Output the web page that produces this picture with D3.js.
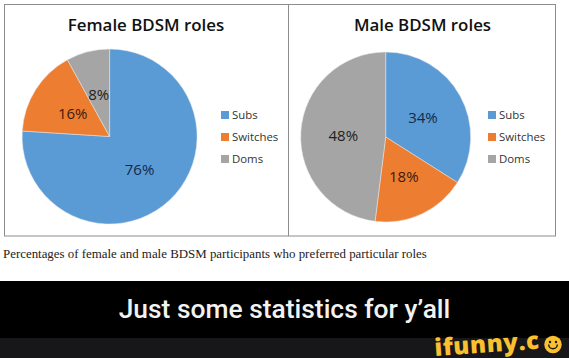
<!DOCTYPE html>
<html>
<head>
<meta charset="utf-8">
<script src="https://cdn.jsdelivr.net/npm/d3@7"></script>
<style>
html, body { margin: 0; padding: 0; background: #fff; }
svg { display: block; }
</style>
</head>
<body>
<svg id="chart"></svg>
<script>
// values
var roles = ["Subs", "Switches", "Doms"];
var femaleValues = [76, 16, 8];
var maleValues = [34, 18, 48];
var roleColors = ["#5b9bd5", "#ed7d31", "#a5a5a5"];
var labelColors = ["#14294a", "#3d1a0c", "#222222"];

var width = 569, height = 358;

var svg = d3.select("#chart").attr("width", width).attr("height", height);

svg.append("rect").attr("width", width).attr("height", height).attr("fill", "#fff");

// frame round both charts
svg.append("rect")
    .attr("x", 4.5).attr("y", 4.5)
    .attr("width", 551).attr("height", 231.5)
    .attr("fill", "none").attr("stroke", "#8c8c8c").attr("stroke-width", 1);
svg.append("line")
    .attr("x1", 288.5).attr("x2", 288.5).attr("y1", 4.5).attr("y2", 236)
    .attr("stroke", "#8c8c8c").attr("stroke-width", 1);

var color = d3.scaleOrdinal().domain(roles).range(roleColors);
var labelColor = d3.scaleOrdinal().domain(roles).range(labelColors);

function drawPie(title, values, cx, cy, r, titleX, legendX) {
    var g = svg.append("g");

    g.append("text")
        .attr("x", titleX).attr("y", 31)
        .attr("text-anchor", "middle")
        .style("font-family", "'Open Sans'")
        .style("font-size", "16.9px")
        .style("font-weight", 600)
        .style("fill", "#111")
        .text(title);

    var data = roles.map(function(d, i) { return {role: d, value: values[i]}; });
    var pie = d3.pie().sort(null).value(function(d) { return d.value; });
    var arc = d3.arc().innerRadius(0).outerRadius(r);

    var slices = g.append("g").attr("transform", `translate(${cx}, ${cy})`);

    slices.selectAll("path")
        .data(pie(data))
        .enter().append("path")
        .attr("d", arc)
        .attr("fill", function(d) { return color(d.data.role); })
        .attr("stroke", "#e8e8e8")
        .attr("stroke-width", 0.5);

    slices.selectAll("text")
        .data(pie(data))
        .enter().append("text")
        .attr("transform", function(d) { return `translate(${arc.centroid(d)})`; })
        .attr("text-anchor", "middle")
        .attr("dy", "0.42em")
        .style("font-family", "'Open Sans'")
        .style("font-size", "15px")
        .style("fill", function(d) { return labelColor(d.data.role); })
        .text(function(d) { return d.data.value + "%"; });

    // legend
    var y = d3.scalePoint().domain(roles).range([115, 159]);
    var legend = g.selectAll(".legend")
        .data(roles)
        .enter().append("g")
        .attr("class", "legend")
        .attr("transform", function(d) { return `translate(${legendX}, ${y(d)})`; });

    legend.append("rect")
        .attr("x", 0).attr("y", -4)
        .attr("width", 8).attr("height", 8)
        .attr("fill", function(d) { return color(d); });

    legend.append("text")
        .attr("x", 11).attr("dy", "0.35em")
        .style("font-family", "'Open Sans'")
        .style("font-size", "11.4px")
        .style("fill", "#333")
        .text(function(d) { return d; });
}

drawPie("Female BDSM roles", femaleValues, 109.6, 136.5, 87.5, 146, 221);
drawPie("Male BDSM roles", maleValues, 385.7, 137, 85, 422.5, 488);

svg.append("text")
    .attr("x", 3).attr("y", 258)
    .style("font-family", "'Liberation Serif'")
    .style("font-size", "12.9px")
    .style("fill", "#222")
    .text("Percentages of female and male BDSM participants who preferred particular roles");

// bottom bands
svg.append("rect").attr("x", 0).attr("y", 281).attr("width", width).attr("height", 57).attr("fill", "#000");
svg.append("rect").attr("x", 0).attr("y", 338).attr("width", width).attr("height", 20).attr("fill", "#17171a");

svg.append("text")
    .attr("x", 284.5).attr("y", 318)
    .attr("text-anchor", "middle")
    .style("font-family", "Roboto")
    .style("font-size", "26.4px")
    .style("font-weight", 500)
    .style("fill", "#f2f2f2")
    .text("Just some statistics for y\u2019all");

// watermark, slanted up a bit like the real logo
svg.append("text")
    .attr("transform", "translate(435, 356) rotate(-4)")
    .style("font-family", "'Open Sans'")
    .style("font-size", "24px")
    .style("font-weight", 800)
    .style("letter-spacing", "0.6px")
    .style("fill", "#fac02f")
    .text("ifunny.c");

var smile = svg.append("g").attr("transform", "translate(553, 344.5)");
smile.append("circle").attr("r", 8.7).attr("fill", "#fac02f");
smile.append("circle").attr("cx", -3).attr("cy", -2.5).attr("r", 1.2).attr("fill", "#17171a");
smile.append("circle").attr("cx", 3).attr("cy", -2.5).attr("r", 1.2).attr("fill", "#17171a");
smile.append("path")
    .attr("d", d3.arc().innerRadius(3.6).outerRadius(5)
        .startAngle(Math.PI / 2).endAngle(Math.PI * 1.5)())
    .attr("fill", "#17171a");
</script>
</body>
</html>
